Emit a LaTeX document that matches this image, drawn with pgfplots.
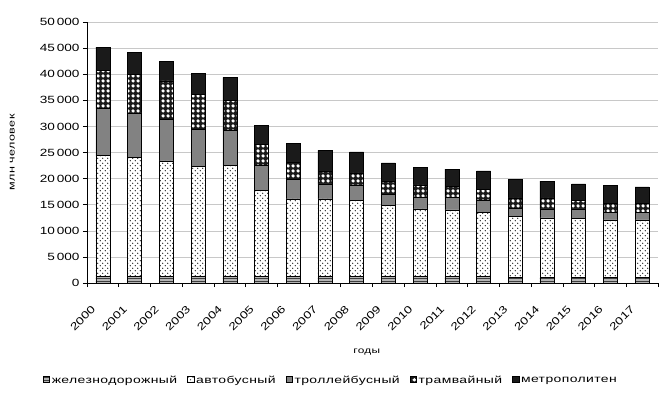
\documentclass[border=0pt]{standalone}
\usepackage{fontspec}
\setmainfont{Liberation Sans}[FakeStretch=1.3]
\newfontfamily\spaced{Liberation Sans}[FakeStretch=1.4, LetterSpace=4]
\usepackage{pgfplots}
\usepackage{pgfplotstable}
\pgfplotsset{compat=1.18}
\usetikzlibrary{patterns,patterns.meta}

\tikzdeclarepattern{
  name=sparsedots,
  type=uncolored,
  bottom left={(0pt,0pt)},
  top right={(5pt,5pt)},
  tile size={(5pt,5pt)},
  code={\fill (1.25pt,1.25pt) circle (0.6pt); \fill (3.75pt,3.75pt) circle (0.6pt);}
}
\tikzdeclarepattern{
  name=blobs,
  type=uncolored,
  bottom left={(0pt,0pt)},
  top right={(4.6pt,4.6pt)},
  tile size={(4.6pt,4.6pt)},
  code={\fill (2.3pt,2.3pt) circle (1.95pt);}
}
\tikzdeclarepattern{
  name=hlines,
  type=uncolored,
  bottom left={(0pt,0pt)},
  top right={(3pt,3pt)},
  tile size={(3pt,3pt)},
  code={\draw[line width=0.5pt] (0pt,1.5pt) -- (3pt,1.5pt);}
}

\definecolor{railc}{HTML}{B4B4B4}
\definecolor{trolc}{HTML}{828282}
\definecolor{metroc}{HTML}{1A1A1A}
\definecolor{gridc}{HTML}{C8C8C8}

\pgfplotstableread{
x rail bus trol tram metro
0 1300 23100 9000 7400 4400
1 1300 22700 8600 7400 4200
2 1300 22100 8000 7300 3800
3 1300 21000 7200 6600 4000
4 1300 21200 6800 5700 4400
5 1300 16400 4800 4000 3700
6 1300 14800 3800 3200 3700
7 1300 14800 2900 2400 4000
8 1300 14600 2900 2300 4000
9 1200 13600 2200 2500 3500
10 1200 13000 2300 2300 3300
11 1200 12800 2500 2000 3300
12 1200 12300 2400 2000 3600
13 1100 11600 1600 2000 3600
14 1100 11400 1700 2100 3200
15 1100 11300 1800 1700 3100
16 1100 11000 1400 1700 3500
17 1100 11000 1400 1700 3200
}\data

\begin{document}
\begin{tikzpicture}
\begin{axis}[
  name=ax,
  scale only axis, width=571bp, height=261bp,
  ybar stacked, bar width=14bp,
  xmin=-0.5, xmax=17.5, ymin=0, ymax=50000,
  axis x line*=bottom, axis y line*=left,
  axis line style={black, line width=0.6pt},
  xtick={0,...,17},
  xticklabels={2000,2001,2002,2003,2004,2005,2006,2007,2008,2009,2010,2011,2012,2013,2014,2015,2016,2017},
  major x tick style={draw=none},
  minor xtick={-0.5,0.5,...,17.5},
  minor tick length=4bp,
  major tick length=4bp,
  tick align=outside,
  tick style={black, line width=0.6pt},
  ytick={0,5000,...,50000},
  scaled y ticks=false,
  /pgf/number format/.cd, 1000 sep={\,}, assume math mode=true,
  /pgfplots/.cd,
  yticklabel style={font=\fontsize{10.5}{12}\selectfont},
  x tick label style={font=\fontsize{10.5}{12}\selectfont, inner sep=0pt, rotate=45, anchor=east, xshift=-21bp, yshift=-7.8bp},
  ymajorgrids, grid style={gridc, line width=0.6pt},
  xlabel={годы},
  xlabel style={font=\fontsize{8.5}{10}\spaced, at={(axis description cs:0.49,-0.265)}, anchor=center},
  ylabel={млн человек},
  ylabel style={font=\fontsize{9}{10}\spaced, at={(axis description cs:-0.131,0.5)}, anchor=center},
  legend columns=5,
  legend style={draw=none, fill=none, at={(0.427,-0.372)}, anchor=center, font=\fontsize{10}{11}\spaced, /tikz/every even column/.append style={column sep=8bp}},
  legend image code/.code={\draw[#1] (0pt,-2.5pt) rectangle (6.5pt,4pt);},
]
\addplot[draw=black, line width=0.5pt, fill=railc, postaction={pattern=hlines, pattern color=black}] table[x=x,y=rail]{\data};
\addplot[draw=black, line width=0.5pt, fill=white, postaction={pattern=sparsedots, pattern color=black}] table[x=x,y=bus]{\data};
\addplot[draw=black, line width=0.5pt, fill=trolc] table[x=x,y=trol]{\data};
\addplot[draw=black, line width=0.5pt, fill=metroc, postaction={pattern=blobs, pattern color=white}] table[x=x,y=tram]{\data};
\addplot[draw=black, line width=0.5pt, fill=metroc] table[x=x,y=metro]{\data};
\legend{железнодорожный,автобусный,троллейбусный,трамвайный,метрополитен}
\coordinate (sw) at (rel axis cs:0,0);
\end{axis}
\pgfresetboundingbox
\path ([shift={(-87bp,-113bp)}]sw) rectangle ++(659bp,396bp);
\end{tikzpicture}
\end{document}
